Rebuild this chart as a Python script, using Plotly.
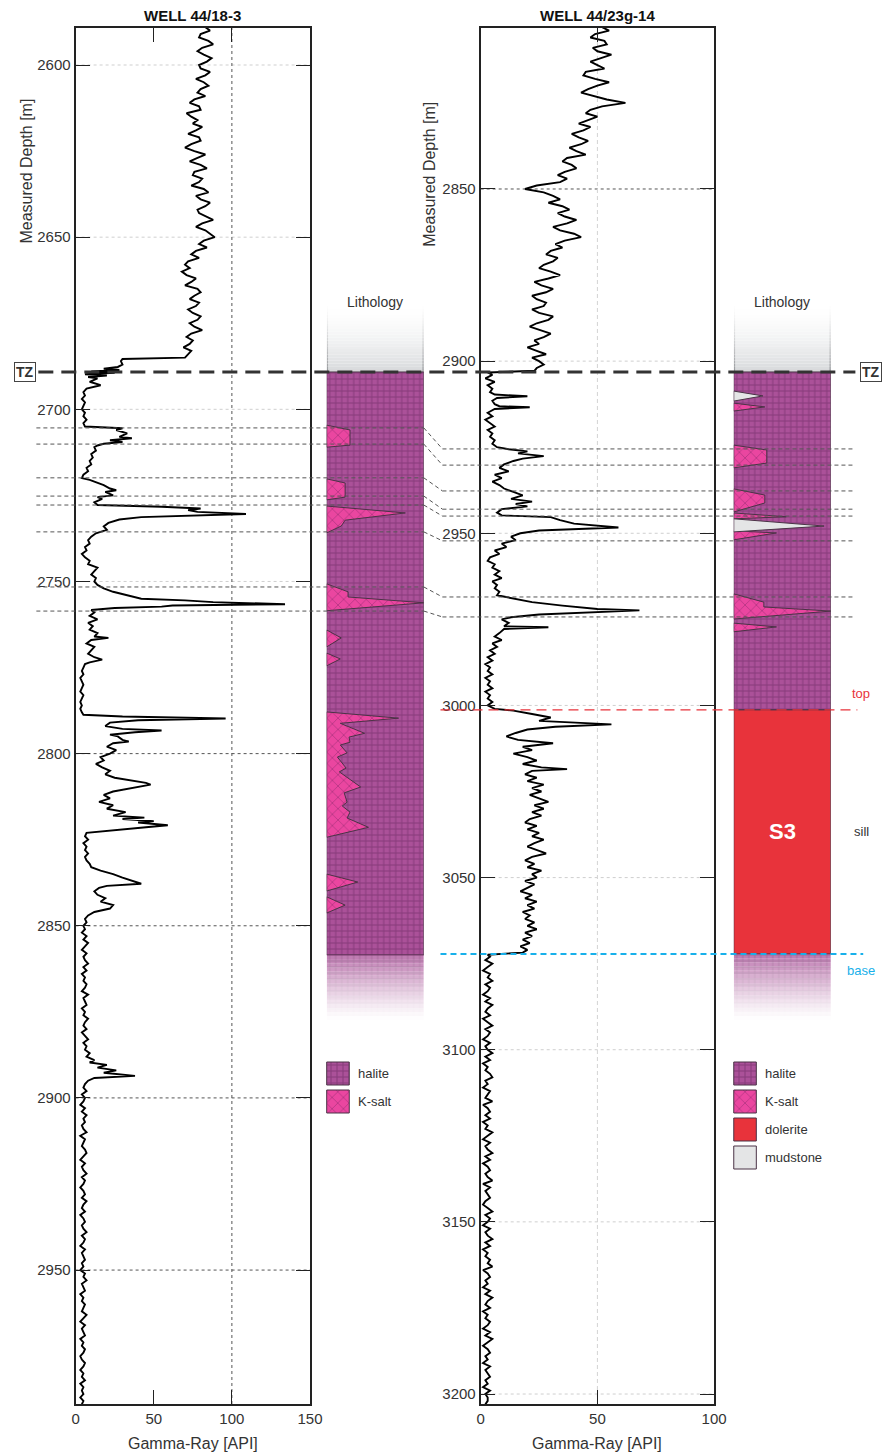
import plotly.graph_objects as go

W, H = 888, 1454

# ---------------- DATA ----------------
# Well 44/18-3 gamma-ray (API); uniform parts sampled every 1 m
L_TOP_START = 2589
L_TOP_GR = [83, 86, 80, 79, 85, 88, 81, 78, 82, 87, 84, 79, 80, 86, 83, 77, 82, 85, 80, 78,
            83, 76, 73, 79, 80, 71, 74, 78, 75, 81, 77, 72, 79, 80, 74, 70, 76, 83, 78, 73,
            80, 84, 76, 75, 81, 79, 74, 82, 85, 77, 80, 86, 83, 78, 79, 84, 88, 81, 77, 83,
            86, 89, 82, 79, 84, 77, 74, 79, 72, 70, 73, 68, 71, 77, 74, 70, 78, 80, 76, 73,
            79, 77, 72, 75, 80, 78, 73, 76, 81, 74, 71, 75, 73, 69, 74, 72, 70]
L_MID = [(2685.4, 30), (2686, 29), (2687, 30), (2687.7, 27), (2688.2, 18), (2688.6, 28), (2689, 10),
         (2689.4, 25), (2689.8, 6), (2690.2, 20), (2690.6, 8), (2691, 14), (2692, 9), (2693, 16),
         (2694, 7), (2695, 5), (2696, 6), (2697, 4), (2698, 6), (2699, 5), (2700, 4), (2701, 6),
         (2702, 5), (2703, 7), (2704, 5), (2705, 6), (2705.5, 30), (2706, 26), (2707, 33), (2708, 28),
         (2708.4, 36), (2709, 22), (2709.5, 30), (2710, 18), (2710.5, 14), (2711, 12), (2712, 13),
         (2713, 10), (2714, 11), (2715, 9), (2716, 10), (2717, 7), (2718, 8), (2719, 5), (2720, 4),
         (2720.5, 9), (2721, 12), (2722, 18), (2723, 22), (2723.5, 26), (2724, 19), (2725, 24),
         (2725.5, 14), (2726, 17), (2727, 12), (2727.8, 14), (2728.3, 55), (2728.8, 80), (2729.3, 72),
         (2729.8, 78), (2730.4, 109), (2730.9, 60), (2731.3, 42), (2732, 28), (2733, 21), (2734, 18),
         (2735, 20), (2736, 13), (2737, 10), (2738, 8), (2739, 9), (2740, 6), (2741, 7), (2742, 4),
         (2743, 6), (2744, 9), (2745, 8), (2746, 14), (2747, 12), (2748, 10), (2749, 13), (2750, 12),
         (2751, 14), (2752, 18), (2753, 24), (2754, 34), (2755, 42), (2755.5, 70), (2756, 88),
         (2756.6, 134), (2757, 62), (2757.3, 55), (2757.7, 25), (2758.3, 10), (2759, 12), (2760, 9),
         (2761, 14), (2762, 8), (2763, 11), (2764, 9), (2765, 14), (2766, 12), (2766.4, 21), (2767, 10),
         (2768, 7), (2769, 12), (2770, 10), (2771, 8), (2772, 12), (2772.7, 17), (2773.5, 9), (2774, 6),
         (2775, 5), (2776, 4), (2777, 5), (2778, 3), (2779, 4), (2780, 5), (2781, 4), (2782, 3),
         (2783, 5), (2784, 4), (2785, 3), (2786, 4), (2787, 3), (2788, 4), (2788.7, 5), (2789.2, 30),
         (2789.8, 96), (2790.3, 40), (2791, 22), (2792, 19), (2792.8, 30), (2793.3, 55), (2793.8, 38),
         (2794.5, 22), (2795, 27), (2796, 30), (2796.5, 34), (2797, 24), (2798, 20), (2799, 26),
         (2800, 22), (2801, 16), (2802, 18), (2803, 13), (2804, 17), (2805, 22), (2806, 19), (2807, 25),
         (2808, 40), (2808.5, 45), (2809, 48), (2809.5, 42), (2810, 38), (2811, 24), (2812, 18),
         (2813, 22), (2814, 15), (2815, 24), (2816, 20), (2817, 32), (2818, 24), (2818.6, 44),
         (2819, 30), (2819.6, 50), (2820, 40), (2820.8, 59), (2821.4, 45), (2822.5, 20), (2823, 7),
         (2824, 6), (2825, 8), (2826, 5), (2827, 7), (2828, 6), (2829, 8), (2830, 6), (2831, 7),
         (2832, 9), (2833, 10), (2834, 16), (2835, 24), (2836, 30), (2837, 36), (2837.8, 42),
         (2838.4, 20), (2839, 15), (2840, 12), (2841, 14), (2842, 19), (2843, 16), (2844, 24),
         (2845, 22), (2846, 12), (2847, 8), (2848, 6), (2849, 7), (2850, 5)]
L_LOW_START = 2851
L_LOW_GR = [6, 4, 7, 5, 8, 6, 4, 7, 5, 6, 8, 5, 7, 4, 6, 5, 7, 6, 4, 8,
            5, 6, 7, 4, 6, 5, 8, 6, 5, 7, 4, 6, 8, 5, 7, 6, 9, 7]
L_SPIKE = [(2889, 12), (2889.7, 9), (2890.4, 20), (2891.2, 14), (2892, 26), (2892.7, 18),
           (2893.6, 38), (2894.2, 12), (2895, 8), (2896, 6)]
L_DEEP_START = 2897
L_DEEP_GR = [5, 7, 4, 6, 5, 3, 6, 4, 7, 5, 6, 4, 5, 7, 3, 6, 5, 4, 6, 7,
             5, 3, 6, 4, 5, 7, 4, 6, 5, 3, 5, 6, 4, 7, 5, 4, 6, 3, 5, 6,
             4, 5, 7, 4, 6, 5, 3, 6, 4, 5, 6, 4, 5, 3, 6, 5, 7, 4, 5, 6,
             3, 5, 4, 6, 5, 4, 7, 5, 3, 6, 4, 5, 6, 3, 5, 4, 6, 5, 3, 4,
             6, 5, 3, 5, 4, 6, 3, 5, 4, 5, 3, 5, 4]

# Well 44/23g-14 gamma-ray (API)
R_TOP_START = 2803
R_TOP_GR = [52, 55, 49, 47, 53, 54, 48, 50, 56, 51, 47, 50, 53, 45, 44, 49, 55, 50, 46, 43,
            49, 54, 62, 52, 47, 45, 50, 46, 42, 47, 44, 39, 42, 46, 43, 38, 41, 45, 37, 35,
            39, 41, 36, 33, 37, 34, 24, 19, 27, 31, 34, 29, 35, 38, 33, 36, 41, 37, 31, 34,
            40, 43, 36, 32, 35, 30, 28, 33, 31, 27, 25, 30, 34, 29, 23, 26, 31, 28, 22, 24,
            28, 27, 22, 25, 31, 29, 24, 21, 26, 30, 27, 23, 25, 20, 24, 28, 22, 25, 27, 24]
R_MID = [(2902.8, 23), (2903.3, 3), (2904, 5), (2905, 2), (2906, 6), (2907, 3), (2908, 5), (2909, 4),
         (2909.7, 6), (2910.2, 20), (2910.7, 7), (2911.5, 5), (2912.5, 6), (2913.1, 8), (2913.4, 21),
         (2913.9, 6), (2915, 3), (2916, 5), (2917, 2), (2918, 4), (2919, 6), (2920, 3), (2921, 5),
         (2922, 4), (2923, 6), (2924, 5), (2925, 7), (2925.6, 12), (2926.2, 20), (2926.8, 16),
         (2927.6, 27), (2928.3, 18), (2929, 14), (2930, 10), (2931, 8), (2932, 12), (2933, 6),
         (2934, 9), (2935, 5), (2936, 8), (2937, 10), (2938, 14), (2939, 18), (2940, 13), (2940.8, 22),
         (2941.5, 15), (2942.2, 20), (2943, 9), (2944, 7), (2944.8, 9), (2945.3, 30), (2946.2, 34),
         (2947.2, 40), (2948.3, 59), (2948.8, 35), (2949.2, 25), (2950, 17), (2951, 13), (2952, 15),
         (2953, 9), (2954, 11), (2955, 6), (2956, 8), (2957, 4), (2958, 3), (2959, 6), (2960, 5),
         (2961, 8), (2962, 6), (2963, 9), (2964, 5), (2965, 7), (2966, 6), (2967, 8), (2968, 7),
         (2969, 14), (2970, 22), (2971, 35), (2972, 50), (2972.4, 68), (2973, 45), (2973.6, 25),
         (2974.4, 13), (2975, 9), (2976, 12), (2977, 10), (2977.3, 29), (2977.8, 10), (2979, 8),
         (2980, 6), (2981, 9), (2982, 5), (2983, 7), (2984, 4), (2985, 6), (2986, 3), (2987, 5),
         (2988, 2), (2989, 4), (2990, 3), (2991, 5), (2992, 2), (2993, 4), (2994, 3), (2995, 5),
         (2996, 2), (2997, 4), (2998, 3), (2999, 5), (3000, 3), (3001, 6), (3001.5, 14), (3002.5, 22),
         (3003.5, 30), (3004.5, 25), (3005.5, 56), (3006.2, 32), (3007, 20), (3008, 15), (3009, 11),
         (3010, 16), (3011, 31), (3012, 18), (3013, 22), (3014, 14), (3015, 20), (3016, 24), (3017, 18),
         (3018, 26), (3018.5, 37), (3019, 22), (3020, 19), (3021, 24), (3022, 20), (3023, 27),
         (3024, 22), (3025, 26), (3026, 21), (3027, 25), (3028, 29), (3029, 23), (3030, 27), (3031, 22),
         (3032, 26), (3033, 21), (3034, 19), (3035, 24), (3036, 20), (3037, 25), (3038, 22), (3039, 27),
         (3040, 23), (3041, 20), (3042, 24), (3043, 28), (3044, 22), (3045, 19), (3046, 23), (3047, 20),
         (3048, 26), (3049, 22), (3050, 24), (3051, 19), (3052, 23), (3053, 20), (3054, 17), (3055, 22),
         (3056, 19), (3057, 24), (3058, 20), (3059, 23), (3060, 18), (3061, 21), (3062, 19), (3063, 23),
         (3064, 20), (3065, 24), (3066, 19), (3067, 22), (3068, 18), (3069, 21), (3070, 17), (3071, 20),
         (3071.8, 18), (3072.4, 3)]
R_DEEP_START = 3073
R_DEEP_GR = [4, 2, 5, 3, 1, 4, 3, 5, 2, 4, 3, 1, 4, 2, 5, 3, 2, 4, 1, 3,
             5, 2, 4, 3, 1, 4, 2, 3, 5, 2, 4, 1, 3, 2, 4, 5, 2, 3, 1, 4,
             3, 2, 5, 1, 3, 4, 2, 4, 1, 3, 2, 5, 3, 1, 4, 2, 3, 5, 2, 4,
             1, 3, 4, 2, 3, 5, 1, 4, 2, 3, 4, 2, 1, 3, 5, 2, 4, 3, 1, 4,
             2, 3, 5, 2, 4, 1, 3, 2, 4, 3, 5, 1, 3, 4, 2, 3, 1, 4, 2, 5,
             3, 2, 4, 1, 3, 2, 4, 3, 1, 4, 2, 5, 3, 1, 3, 4, 2, 3, 1, 4,
             2, 3, 4, 2, 3, 1, 4, 2, 3, 3, 2]

# axes
L_RANGE = [2988.9, 2589.25]
R_RANGE = [3202.9, 2803.24]
L_YTICKS = [2600, 2650, 2700, 2750, 2800, 2850, 2900, 2950]
R_YTICKS = [2850, 2900, 2950, 3000, 3050, 3100, 3150, 3200]
L_XTICKS = [0, 50, 100, 150]
R_XTICKS = [0, 50, 100]
L_DARK_GRID = [2800, 2850, 2900, 2950]
R_DARK_GRID = [2850]

# lithology column depths (m)
TZ_L, TZ_R = 2689.16, 2903.15
L_HALITE_BASE, L_FADE_BASE = 2858.5, 2877.4
R_SILL_TOP, R_SILL_BASE, R_FADE_BASE = 3001.3, 3072.2, 3091.4
HEADER_H = 20.0

# correlated K-salt horizons (left depth -> right depth)
CORR_L = [2705.4, 2710.1, 2719.9, 2725.2, 2727.8, 2735.6, 2751.6, 2758.6]
CORR_R = [2925.5, 2930.2, 2937.7, 2943.0, 2945.0, 2952.2, 2968.5, 2974.3]

# lithology bodies: (relative width, depth)
L_KSALT = [
    [(0, 2704.6), (0.24, 2706.0), (0.24, 2710.4), (0, 2711.0)],
    [(0, 2720.2), (0.19, 2721.4), (0.19, 2725.5), (0, 2726.3)],
    [(0, 2728.1), (0.81, 2730.1), (0.19, 2732.2), (0.15, 2733.9), (0, 2735.9)],
    [(0, 2750.7), (0.22, 2753.0), (0.22, 2754.5), (1.0, 2756.2), (0, 2758.5)],
    [(0, 2764.1), (0.15, 2766.4), (0, 2769.0)],
    [(0, 2770.8), (0.14, 2772.5), (0, 2774.5)],
    [(0, 2787.9), (0.74, 2789.7), (0.14, 2791.2), (0.39, 2794.1), (0.23, 2795.2), (0.24, 2796.7),
     (0.14, 2797.5), (0.21, 2799.8), (0.11, 2801.0), (0.20, 2804.2), (0.13, 2805.3), (0.35, 2809.7),
     (0.18, 2811.4), (0.21, 2814.1), (0.16, 2815.2), (0.24, 2817.0), (0.21, 2818.7), (0.43, 2821.4),
     (0, 2824.3)],
    [(0, 2835.0), (0.32, 2837.3), (0, 2839.9)],
    [(0, 2841.6), (0.19, 2844.0), (0, 2846.3)],
]
R_KSALT = [
    [(0, 2912.2), (0.32, 2913.3), (0, 2914.5)],
    [(0, 2924.4), (0.34, 2925.8), (0.34, 2929.6), (0, 2931.0)],
    [(0, 2937.1), (0.32, 2938.9), (0.32, 2941.2), (0, 2943.8)],
    [(0, 2944.1), (0.54, 2945.2), (0, 2945.8)],
    [(0, 2949.3), (0.44, 2949.9), (0, 2951.9)],
    [(0, 2967.6), (0.31, 2970.0), (0.31, 2971.4), (1.0, 2972.6), (0, 2974.9)],
    [(0, 2976.1), (0.44, 2977.2), (0, 2978.6)],
]
R_MUD = [
    [(0, 2908.7), (0.30, 2910.1), (0, 2911.6)],
    [(0, 2945.8), (0.93, 2947.9), (0, 2949.6)],
]

LEGEND_L = ["halite", "K-salt"]
LEGEND_R = ["halite", "K-salt", "dolerite", "mudstone"]

# ---------------- STYLE ----------------
FONT = "Liberation Sans, Arial, sans-serif"
HALITE = dict(shape="+", size=6, solidity=0.3, fgcolor="#61245a", bgcolor="#ab5199")
KSALT = dict(shape="x", size=8, solidity=0.22, fgcolor="#8e2a6c", bgcolor="#ea46a0")
DOLERITE = "#e8333b"
MUDSTONE = "#e4e5e6"
OUTLINE = "#4a3346"


def uniform(start, vals):
    return [start + i for i in range(len(vals))], list(vals)


def pairs(lst):
    return [a for a, b in lst], [b for a, b in lst]


def assemble(parts):
    d, g = [], []
    for p in parts:
        d += p[0]
        g += p[1]
    return d, g


L_d, L_g = assemble([uniform(L_TOP_START, L_TOP_GR), pairs(L_MID), uniform(L_LOW_START, L_LOW_GR),
                     pairs(L_SPIKE), uniform(L_DEEP_START, L_DEEP_GR)])
R_d, R_g = assemble([uniform(R_TOP_START, R_TOP_GR), pairs(R_MID), uniform(R_DEEP_START, R_DEEP_GR)])

fig = go.Figure()
fig.add_trace(go.Scatter(x=L_g, y=L_d, mode="lines", line=dict(color="#000", width=1.9),
                         xaxis="x", yaxis="y", hoverinfo="skip"))
fig.add_trace(go.Scatter(x=R_g, y=R_d, mode="lines", line=dict(color="#000", width=1.9),
                         xaxis="x2", yaxis="y2", hoverinfo="skip"))


def rect(d0, d1):
    return [0, 1, 1, 0, 0], [d0, d0, d1, d1, d0]


def poly(v):
    return [p[0] for p in v] + [v[0][0]], [p[1] for p in v] + [v[0][1]]


def add_fill(xs, ys, xa, ya, pattern=None, color=None, line_w=1, opacity=1.0):
    kw = dict(x=xs, y=ys, mode="lines", fill="toself", xaxis=xa, yaxis=ya, hoverinfo="skip",
              opacity=opacity,
              line=dict(color=OUTLINE if line_w > 0 else "rgba(0,0,0,0)", width=line_w))
    if pattern is not None:
        kw["fillpattern"] = pattern
        kw["fillcolor"] = pattern["bgcolor"]
    else:
        kw["fillcolor"] = color
    fig.add_trace(go.Scatter(**kw))


def fade(xa, ya, d0, d1, n=16):
    for i in range(n):
        a = d0 + (d1 - d0) * i / n
        b = d0 + (d1 - d0) * (i + 1) / n
        op = 0.78 * (1 - (i + 0.5) / n) ** 1.25
        xs, ys = rect(a, b)
        add_fill(xs, ys, xa, ya, pattern=HALITE, line_w=0, opacity=op)


# left lithology column
xs, ys = rect(TZ_L, L_HALITE_BASE)
add_fill(xs, ys, "x3", "y3", pattern=HALITE)
fade("x3", "y3", L_HALITE_BASE, L_FADE_BASE)
for v in L_KSALT:
    xs, ys = poly(v)
    add_fill(xs, ys, "x3", "y3", pattern=KSALT)

# right lithology column
xs, ys = rect(TZ_R, R_SILL_TOP)
add_fill(xs, ys, "x4", "y4", pattern=HALITE)
xs, ys = rect(R_SILL_TOP, R_SILL_BASE)
add_fill(xs, ys, "x4", "y4", color=DOLERITE)
fade("x4", "y4", R_SILL_BASE, R_FADE_BASE)
for v in R_KSALT:
    xs, ys = poly(v)
    add_fill(xs, ys, "x4", "y4", pattern=KSALT)
for v in R_MUD:
    xs, ys = poly(v)
    add_fill(xs, ys, "x4", "y4", color=MUDSTONE)

# legend swatches on a pixel canvas
annotations = []
SW_STYLE = {"halite": dict(pattern=HALITE), "K-salt": dict(pattern=KSALT),
            "dolerite": dict(color=DOLERITE), "mudstone": dict(color=MUDSTONE)}
for x0, items in [(329, LEGEND_L), (744, LEGEND_R)]:
    for i, name in enumerate(items):
        y0 = 1062 + 28 * i
        add_fill([x0, x0 + 23, x0 + 23, x0, x0], [y0, y0, y0 + 23, y0 + 23, y0], "x5", "y5",
                 **SW_STYLE[name])
        annotations.append(dict(xref="x5", yref="y5", x=x0 + 30, y=y0 + 11.5, text=name,
                                xanchor="left", yanchor="middle", showarrow=False,
                                font=dict(size=13, color="#333")))

# ---------------- SHAPES ----------------
shapes = []


def hgrid(xa, ya, vals, dark):
    for v in vals:
        shapes.append(dict(type="line", xref=xa + " domain", yref=ya, x0=0, x1=1, y0=v, y1=v,
                           layer="below",
                           line=dict(color="#555" if v in dark else "#cfcfcf", width=1, dash="dot")))


hgrid("x", "y", L_YTICKS, L_DARK_GRID)
hgrid("x2", "y2", R_YTICKS, R_DARK_GRID)
shapes.append(dict(type="line", xref="x", yref="y domain", x0=100, x1=100, y0=0, y1=1, layer="below",
                   line=dict(color="#555", width=1, dash="dot")))
shapes.append(dict(type="line", xref="x2", yref="y2 domain", x0=50, x1=50, y0=0, y1=1, layer="below",
                   line=dict(color="#d4d4d4", width=1, dash="4px,3px")))


def lerp(c0, c1, t):
    return "rgb(%d,%d,%d)" % tuple(round(a + (b - a) * t) for a, b in zip(c0, c1))


# lithology header gradient
NB = 24
for i in range(NB):
    tm = (i + 0.5) / NB
    col = lerp((255, 255, 255), (214, 216, 218), tm ** 1.8)
    ecol = lerp((255, 255, 255), (150, 152, 155), tm ** 1.4)
    for xa, ya, tz in [("x3", "y3", TZ_L), ("x4", "y4", TZ_R)]:
        a = tz - HEADER_H * (1 - i / NB)
        b = tz - HEADER_H * (1 - (i + 1) / NB)
        shapes.append(dict(type="rect", xref=xa, yref=ya, x0=0, x1=1, y0=a, y1=b, layer="below",
                           fillcolor=col, line=dict(width=0)))
        for e0, e1 in [(0, 0.014), (0.986, 1)]:
            shapes.append(dict(type="rect", xref=xa, yref=ya, x0=e0, x1=e1, y0=a, y1=b, layer="below",
                               fillcolor=ecol, line=dict(width=0)))

# correlation lines
OFFSET = R_RANGE[1] - L_RANGE[1]
CL = dict(color="#555", width=1, dash="4px,3px")
for dl, dr in zip(CORR_L, CORR_R):
    shapes.append(dict(type="line", xref="paper", yref="y", x0=33 / W, x1=428 / W, y0=dl, y1=dl, line=CL))
    shapes.append(dict(type="line", xref="paper", yref="y2", x0=428 / W, x1=447 / W,
                       y0=dl + OFFSET, y1=dr, line=CL))
    shapes.append(dict(type="line", xref="paper", yref="y2", x0=447 / W, x1=867 / W, y0=dr, y1=dr, line=CL))

# TZ, sill top and base
shapes.append(dict(type="line", xref="paper", yref="y", x0=35 / W, x1=868 / W, y0=TZ_L, y1=TZ_L,
                   line=dict(color="#333", width=3, dash="15px,8px")))
shapes.append(dict(type="line", xref="paper", yref="y2", x0=445 / W, x1=870 / W, y0=R_SILL_TOP, y1=R_SILL_TOP,
                   line=dict(color="#e8333b", width=1.3, dash="10px,6px")))
shapes.append(dict(type="line", xref="paper", yref="y2", x0=445 / W, x1=876 / W, y0=R_SILL_BASE,
                   y1=R_SILL_BASE, line=dict(color="#18b0ea", width=2, dash="6px,4px")))

# ---------------- ANNOTATIONS ----------------
def px_y(p):
    return 1 - p / H


C = dict(xanchor="center", yanchor="middle", showarrow=False)
annotations += [
    dict(xref="paper", yref="paper", x=192.5 / W, y=px_y(15), text="<b>WELL 44/18-3</b>",
         font=dict(size=15, color="#111"), **C),
    dict(xref="paper", yref="paper", x=605 / W, y=px_y(15), text="<b>WELL 44/23g-14</b>",
         font=dict(size=15, color="#111"), **C),
    dict(xref="paper", yref="paper", x=192.5 / W, y=px_y(1443), text="Gamma-Ray [API]",
         font=dict(size=16, color="#333"), **C),
    dict(xref="paper", yref="paper", x=605 / W, y=px_y(1443), text="Gamma-Ray [API]",
         font=dict(size=16, color="#333"), **C),
    dict(xref="paper", yref="paper", x=22 / W, y=px_y(171), text="Measured Depth [m]", textangle=-90,
         font=dict(size=16, color="#333"), **C),
    dict(xref="paper", yref="paper", x=433 / W, y=px_y(174), text="Measured Depth [m]", textangle=-90,
         font=dict(size=16, color="#333"), **C),
    dict(xref="x3 domain", yref="paper", x=0.5, y=px_y(302), text="Lithology",
         font=dict(size=14, color="#333"), **C),
    dict(xref="x4 domain", yref="paper", x=0.5, y=px_y(302), text="Lithology",
         font=dict(size=14, color="#333"), **C),
    dict(xref="paper", yref="y", x=21.5 / W, y=TZ_L, text="<b>TZ</b>",
         font=dict(size=14, color="#333"), bordercolor="#444", borderwidth=1, borderpad=1, bgcolor="white", **C),
    dict(xref="paper", yref="y", x=873 / W, y=TZ_L, text="<b>TZ</b>", xanchor="left", yanchor="middle",
         showarrow=False, font=dict(size=14, color="#333"), bordercolor="#444", borderwidth=1, borderpad=1,
         bgcolor="white"),
    dict(xref="x4", yref="y4", x=0.5, y=(R_SILL_TOP + R_SILL_BASE) / 2, text="<b>S3</b>",
         font=dict(size=22, color="white"), **C),
    dict(xref="paper", yref="y2", x=874 / W, y=(R_SILL_TOP + R_SILL_BASE) / 2, text="sill",
         font=dict(size=13, color="#333"), **C),
    dict(xref="paper", yref="y2", x=874 / W, y=R_SILL_TOP, yshift=16, text="top",
         font=dict(size=13, color="#e8333b"), **C),
    dict(xref="paper", yref="y2", x=874 / W, y=R_SILL_BASE, yshift=-16, text="base",
         font=dict(size=13, color="#18b0ea"), **C),
]

# ---------------- LAYOUT ----------------
YDOM = [1 - 1404 / H, 1 - 28 / H]
AX = dict(ticks="inside", ticklen=14, tickwidth=1.3, tickcolor="#222", showline=True, linewidth=2,
          linecolor="#222", mirror="ticks", showgrid=False, zeroline=False,
          tickfont=dict(size=15, color="#333"), fixedrange=True)
HID = dict(visible=False, showgrid=False, zeroline=False, fixedrange=True)

fig.update_layout(
    width=W, height=H, margin=dict(l=0, r=0, t=0, b=0),
    paper_bgcolor="white", plot_bgcolor="rgba(0,0,0,0)", showlegend=False, hovermode=False,
    font=dict(family=FONT, color="#333"),
    xaxis=dict(domain=[73 / W, 312 / W], range=[0, 150], tickvals=L_XTICKS, anchor="y", **AX),
    yaxis=dict(domain=YDOM, range=L_RANGE, tickvals=L_YTICKS, anchor="x", **AX),
    xaxis2=dict(domain=[486 / W, 724 / W], range=[0, 100], tickvals=R_XTICKS, anchor="y2", **AX),
    yaxis2=dict(domain=YDOM, range=R_RANGE, tickvals=R_YTICKS, anchor="x2", **AX),
    xaxis3=dict(domain=[329 / W, 428 / W], range=[0, 1], anchor="y3", **HID),
    yaxis3=dict(domain=YDOM, range=L_RANGE, anchor="x3", **HID),
    xaxis4=dict(domain=[744 / W, 843 / W], range=[0, 1], anchor="y4", **HID),
    yaxis4=dict(domain=YDOM, range=R_RANGE, anchor="x4", **HID),
    xaxis5=dict(domain=[0, 1], range=[0, W], anchor="y5", **HID),
    yaxis5=dict(domain=[0, 1], range=[H, 0], anchor="x5", **HID),
    shapes=shapes, annotations=annotations,
)

fig.write_html("out.html", config={"displayModeBar": False},
               post_script="document.body.style.margin='0px';document.body.style.padding='0px';"
                           "document.body.style.overflow='hidden';")
